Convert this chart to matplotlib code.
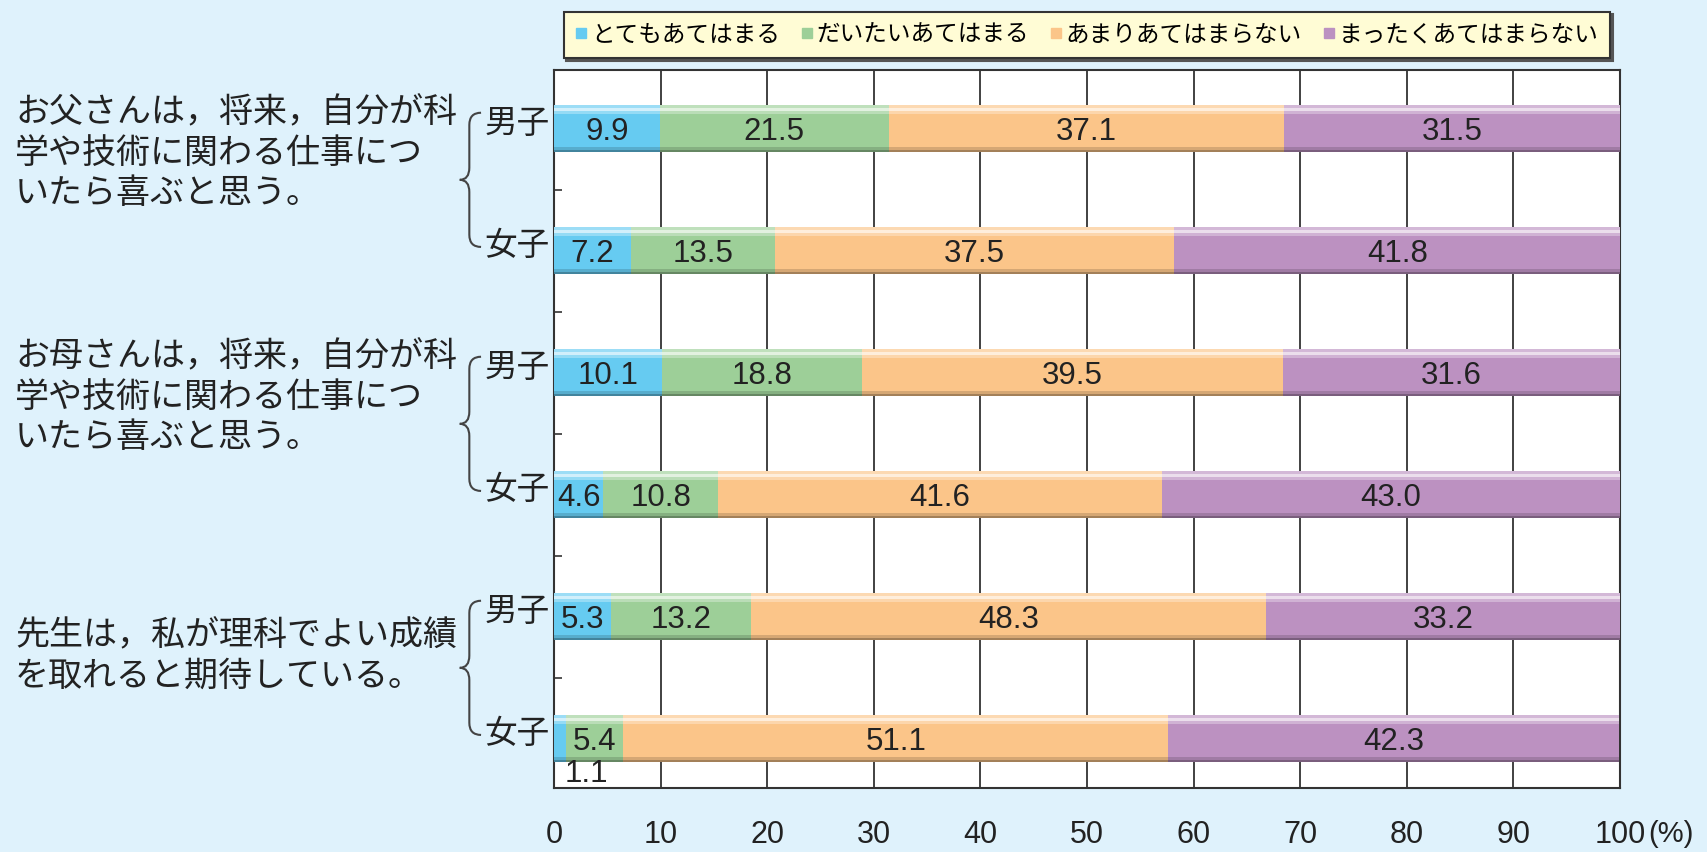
import matplotlib
matplotlib.use("Agg")
import matplotlib.pyplot as plt
import numpy as np
from matplotlib.path import Path
from matplotlib.patches import PathPatch
from matplotlib.lines import Line2D
from matplotlib.transforms import blended_transform_factory
import matplotlib.colors as mcolors

# ---------------- data ----------------
categories = ["とてもあてはまる", "だいたいあてはまる", "あまりあてはまらない", "まったくあてはまらない"]
questions = [
    ["お父さんは，将来，自分が科", "学や技術に関わる仕事につ", "いたら喜ぶと思う。"],
    ["お母さんは，将来，自分が科", "学や技術に関わる仕事につ", "いたら喜ぶと思う。"],
    ["先生は，私が理科でよい成績", "を取れると期待している。"],
]
genders = ["男子", "女子"]
very = [9.9, 7.2, 10.1, 4.6, 5.3, 1.1]
mostly = [21.5, 13.5, 18.8, 10.8, 13.2, 5.4]
not_much = [37.1, 37.5, 39.5, 41.6, 48.3, 51.1]
not_at_all = [31.5, 41.8, 31.6, 43.0, 33.2, 42.3]
xticks = [0, 10, 20, 30, 40, 50, 60, 70, 80, 90, 100]

series = [very, mostly, not_much, not_at_all]
colors = ["#66CBF1", "#9DCF98", "#FBC589", "#BC91C1"]

BG = "#DFF2FC"
JP = ["Noto Sans CJK JP", "DejaVu Sans"]
NUM = ["Liberation Sans", "DejaVu Sans"]
TXT = "#222222"

fig = plt.figure(figsize=(17.08, 8.52), dpi=100, facecolor=BG)
ax = fig.add_axes([0.3244, 0.0751, 0.9485 - 0.3244, 0.9178 - 0.0751])
ax.set_facecolor("white")

n = len(very)
y = np.arange(n)
h = 0.385


def lighten(c, f):
    r = np.array(mcolors.to_rgb(c))
    return tuple(r + (1 - r) * f)


def darken(c, f):
    r = np.array(mcolors.to_rgb(c))
    return tuple(r * (1 - f))


left = np.zeros(n)
for vals, col in zip(series, colors):
    vals = np.array(vals)
    ax.barh(y, vals, left=left, height=h, color=col, zorder=3, linewidth=0)
    # top highlight (visually top => smaller y since axis inverted)
    ax.barh(y - h / 2 + h * 0.03, vals, left=left, height=h * 0.06,
            color=lighten(col, 0.35), zorder=4, linewidth=0)
    ax.barh(y - h / 2 + h * 0.09, vals, left=left, height=h * 0.07,
            color=lighten(col, 0.7), zorder=4, linewidth=0)
    ax.barh(y - h / 2 + h * 0.155, vals, left=left, height=h * 0.06,
            color=lighten(col, 0.3), zorder=4, linewidth=0)
    # bottom shade
    ax.barh(y + h / 2 - h * 0.075, vals, left=left, height=h * 0.07,
            color=darken(col, 0.15), zorder=4, linewidth=0)
    ax.barh(y + h / 2 - h * 0.02, vals, left=left, height=h * 0.04,
            color=darken(col, 0.35), zorder=4, linewidth=0)
    for i in range(n):
        v = vals[i]
        if v < 2:
            ax.text(left[i] + v + 1.9, y[i] + 0.29, f"{v:.1f}",
                    ha="center", va="center", fontsize=22.5, family=NUM,
                    color=TXT, zorder=6)
        else:
            ax.text(left[i] + v / 2, y[i] + 0.03, f"{v:.1f}",
                    ha="center", va="center", fontsize=22.5, family=NUM,
                    color=TXT, zorder=6)
    left = left + vals

ax.set_xlim(0, 100)
ax.set_ylim(n - 1 + 0.405, -0.48)
ax.set_xticks(xticks)
ax.set_xticklabels([str(t) for t in xticks], fontsize=22, family=NUM, color=TXT)
ax.tick_params(axis="x", length=0, pad=23)
ax.set_yticks(y[:-1] + 0.5)
ax.set_yticklabels([])
ax.tick_params(axis="y", direction="in", length=6, width=1.2, color="#333333")
ax.grid(axis="x", color="#333333", linewidth=1.3, zorder=1)
for s in ax.spines.values():
    s.set_color("#333333")
    s.set_linewidth(1.5)

ax.text(1.026, -0.064, "(%)", transform=ax.transAxes, fontsize=21,
        family=NUM, ha="left", va="center", color=TXT)

# gender labels, braces, questions
bt = blended_transform_factory(ax.transAxes, ax.transData)
for i in range(n):
    ax.text(-0.004, y[i] - 0.04, genders[i % 2], transform=bt, ha="right", va="center",
            fontsize=23.5, family=JP, color=TXT)

q_offsets = [0.2, 0.2, 0.326]
line_gap = 0.33
for g, lines in enumerate(questions):
    y0 = y[2 * g]
    y1 = y[2 * g + 1]
    top = y0 - 0.13
    bot = y1 - 0.03
    mid = (top + bot) / 2
    xs, xt, xe = -0.0795, -0.0885, -0.0685
    r = 0.1
    verts = [(xe, top), (xs, top), (xs, top + r),
             (xs, mid - r), (xs, mid), (xt, mid),
             (xs, mid), (xs, mid + r),
             (xs, bot - r), (xs, bot), (xe, bot)]
    codes = [Path.MOVETO, Path.CURVE3, Path.CURVE3,
             Path.LINETO, Path.CURVE3, Path.CURVE3,
             Path.CURVE3, Path.CURVE3,
             Path.LINETO, Path.CURVE3, Path.CURVE3]
    ax.add_patch(PathPatch(Path(verts, codes), transform=bt, fill=False,
                           edgecolor="#444444", linewidth=1.5, clip_on=False))
    c = y0 + q_offsets[g]
    m = len(lines)
    for k, line in enumerate(lines):
        yy = c + (k - (m - 1) / 2) * line_gap
        ax.text(-0.5056, yy, line, transform=bt, ha="left", va="center",
                fontsize=24.5, family=JP, color=TXT)

# legend
handles = [Line2D([], [], marker="s", linestyle="none", markersize=7.5,
                  markerfacecolor=c, markeredgecolor=c) for c in colors]
leg = fig.legend(handles, categories, loc="center", bbox_to_anchor=(0.6364, 0.9589),
                 ncol=4, frameon=True, fancybox=False, prop={"family": JP, "size": 17},
                 handlelength=0.5, handletextpad=0.15, columnspacing=0.9,
                 borderpad=0.5, facecolor="#FFFCD5", edgecolor="#333333",
                 shadow={"facecolor": "#555555", "edgecolor": "#555555", "alpha": 1})
leg.get_frame().set_linewidth(1.5)
leg.get_frame().set_alpha(1)

fig.savefig("out.png", dpi=100, facecolor=BG)
